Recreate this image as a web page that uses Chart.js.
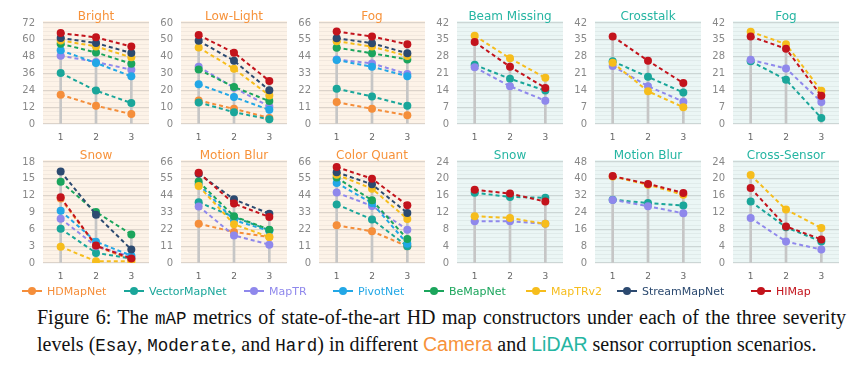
<!DOCTYPE html>
<html>
<head>
<meta charset="utf-8">
<script src="https://cdn.jsdelivr.net/npm/chart.js@4.4.1/dist/chart.umd.min.js"></script>
<style>
body { margin: 0; width: 863px; height: 371px; background: #fff; position: relative; overflow: hidden; }
.painel { position: absolute; width: 140px; height: 145px; }
.painel canvas { display: block; }
.item { position: absolute; top: 285px; font-family: "DejaVu Sans", sans-serif; font-size: 11px; white-space: nowrap; }
.marca { display: inline-block; position: relative; width: 20px; height: 2px; vertical-align: middle; margin-right: 5px; top: -1px; }
.marca i { position: absolute; left: 6px; top: -3px; width: 8px; height: 8px; border-radius: 50%; }
.legenda-txt { position: absolute; left: 37px; width: 809px; font-family: "Liberation Serif", "Times New Roman", serif; font-size: 20px; color: #111; white-space: nowrap; }
.l1 { top: 306px; text-align: justify; text-align-last: justify; }
.l2 { top: 333px; }
.mono { font-family: "Liberation Mono", monospace; font-size: 17.5px; }
.sans { font-family: "Liberation Sans", sans-serif; font-size: 19.5px; }
</style>
</head>
<body>
<div id="graficos"></div>
<div id="legenda"></div>
<div class="legenda-txt l1">Figure 6: The <span class="mono">mAP</span> metrics of state-of-the-art HD map constructors under each of the three severity</div>
<div class="legenda-txt l2">levels (<span class="mono">Esay</span>, <span class="mono">Moderate</span>, and <span class="mono">Hard</span>) in different <span class="sans" style="color:#f7923a">Camera</span> and <span class="sans" style="color:#25b5a2">LiDAR</span> sensor corruption scenarios.</div>
<script>
var niveis = ['1', '2', '3'];
var metodos = ['HDMapNet', 'VectorMapNet', 'MapTR', 'PivotNet', 'BeMapNet', 'MapTRv2', 'StreamMapNet', 'HIMap'];
var cores = ['#f58e3a', '#1aa69a', '#8f88ec', '#22a7e6', '#1ba55c', '#f6bd1c', '#2c4a70', '#c3131c'];
var metodosLidar = ['VectorMapNet', 'MapTR', 'MapTRv2', 'HIMap'];

// camera: one row per method, same order as metodos
var camBright = [[20.9, 13.0, 7.1], [36.3, 23.8, 15.0], [48.7, 44.2, 38.7], [52.5, 43.5, 34.0], [57.2, 51.0, 43.0], [59.6, 55.3, 47.5], [61.3, 57.7, 50.6], [64.8, 61.8, 55.3]];
var camLowLight = [[14.0, 9.0, 3.6], [12.8, 7.0, 2.8], [34.0, 21.6, 10.4], [23.6, 16.0, 8.4], [32.4, 22.0, 13.6], [45.4, 32.8, 17.0], [49.4, 37.6, 20.0], [52.8, 42.4, 25.6]];
var camFog = [[14.3, 9.9, 5.7], [23.1, 18.0, 11.9], [42.2, 39.6, 32.6], [41.8, 37.4, 31.2], [49.9, 46.2, 42.2], [54.1, 50.6, 44.4], [56.1, 52.8, 46.2], [60.5, 57.2, 52.1]];
var camSnow = [[11.5, 3.0, 0.6], [6.1, 1.8, 0.8], [7.9, 3.0, 1.1], [9.3, 3.8, 1.3], [14.5, 9.1, 5.1], [2.9, 0.3, 0.3], [16.3, 8.6, 2.4], [11.7, 3.1, 0.8]];
var camMotionBlur = [[25.7, 20.3, 17.0], [39.7, 30.1, 21.4], [37.0, 18.0, 12.0], [51.5, 28.0, 21.0], [53.2, 30.5, 21.8], [50.3, 25.3, 17.0], [58.4, 41.6, 32.2], [59.0, 38.8, 30.1]];
var camColorQuant = [[24.6, 20.7, 10.9], [38.3, 28.5, 10.9], [46.0, 37.3, 21.8], [52.3, 39.2, 12.6], [55.8, 41.0, 15.7], [57.7, 48.6, 28.8], [59.3, 51.4, 32.7], [62.7, 55.1, 37.7]];

// lidar: same order as metodosLidar
var lidarBeamMissing = [[24.6, 18.8, 13.9], [23.6, 15.7, 9.7], [36.7, 27.3, 19.2], [34.1, 23.8, 15.0]];
var lidarCrosstalk = [[26.1, 19.6, 13.1], [24.1, 15.7, 9.3], [25.5, 13.6, 7.0], [36.4, 26.3, 17.0]];
var lidarFog = [[26.1, 18.4, 2.5], [26.7, 23.1, 9.2], [38.4, 33.2, 13.8], [36.4, 31.3, 11.7]];
var lidarSnow = [[16.7, 15.7, 15.5], [9.9, 9.9, 9.3], [11.1, 10.7, 9.3], [17.4, 16.5, 14.6]];
var lidarMotionBlur = [[30.1, 28.5, 27.3], [30.0, 27.0, 23.6], [41.1, 37.2, 32.4], [41.3, 37.6, 33.3]];
var lidarCrossSensor = [[14.6, 8.5, 5.1], [10.7, 5.1, 3.2], [20.9, 12.7, 8.3], [17.8, 8.7, 5.6]];

var titulos = ['Bright', 'Low-Light', 'Fog', 'Beam Missing', 'Crosstalk', 'Fog',
               'Snow', 'Motion Blur', 'Color Quant', 'Snow', 'Motion Blur', 'Cross-Sensor'];
var eixoMax = [72, 60, 66, 42, 42, 42, 18, 66, 66, 24, 48, 24];
var eixoPasso = [12, 10, 11, 7, 7, 7, 3, 11, 11, 4, 8, 4];
var valores = [camBright, camLowLight, camFog, lidarBeamMissing, lidarCrosstalk, lidarFog,
               camSnow, camMotionBlur, camColorQuant, lidarSnow, lidarMotionBlur, lidarCrossSensor];

// panel background, and the title centred over the plot area
var fundoPlugin = {
	id: 'fundo',
	beforeDraw: function(chart, args, opts) {
		var a = chart.chartArea;
		var ctx = chart.ctx;
		ctx.save();
		ctx.fillStyle = opts.cor;
		ctx.fillRect(a.left, a.top - 2, a.right - a.left, a.bottom - a.top + 2);
		ctx.restore();
	},
	afterDraw: function(chart, args, opts) {
		var a = chart.chartArea;
		var ctx = chart.ctx;
		ctx.save();
		ctx.fillStyle = opts.corTitulo;
		ctx.font = '12px "DejaVu Sans"';
		ctx.textAlign = 'center';
		ctx.textBaseline = 'alphabetic';
		ctx.fillText(opts.titulo, (a.left + a.right) / 2, a.top - 3);
		ctx.restore();
	}
};

function corDe(nome) {
	return cores[metodos.indexOf(nome)];
}

function criarPainel(i) {
	var linha = Math.floor(i / 6);
	var coluna = i % 6;
	var lidar = coluna >= 3;
	var nomes = lidar ? metodosLidar : metodos;
	var dados = valores[i];

	var div = document.createElement('div');
	div.className = 'painel';
	div.style.left = (13 + coluna * 138) + 'px';
	div.style.top = (linha * 139) + 'px';
	var canvas = document.createElement('canvas');
	canvas.width = 140;
	canvas.height = 145;
	div.appendChild(canvas);
	document.getElementById('graficos').appendChild(div);

	var datasets = [];
	for (var k = nomes.length - 1; k >= 0; k--) {
		datasets.push({
			type: 'line',
			label: nomes[k],
			data: dados[k],
			borderColor: corDe(nomes[k]),
			backgroundColor: corDe(nomes[k]),
			borderWidth: 2,
			borderDash: [4, 3],
			pointRadius: 4,
			pointBorderWidth: 0,
			tension: 0,
			order: 1
		});
	}
	// gray stem at each level, up to the highest value
	var topos = niveis.map(function(n, j) {
		return Math.max.apply(null, dados.map(function(d) { return d[j]; }));
	});
	datasets.push({
		type: 'bar',
		label: 'stem',
		data: topos,
		backgroundColor: '#c6c6c6',
		barThickness: 2,
		order: 10
	});

	var passoMenor = eixoPasso[i] / 4;

	new Chart(canvas.getContext('2d'), {
		type: 'line',
		data: { labels: niveis, datasets: datasets },
		plugins: [fundoPlugin],
		options: {
			responsive: false,
			animation: false,
			layout: { padding: { top: 23, right: 0, bottom: 0, left: 0 } },
			plugins: {
				legend: { display: false },
				tooltip: { enabled: false },
				title: { display: false },
				fundo: {
					cor: lidar ? '#ebf6f5' : '#fdf3e8',
					corTitulo: lidar ? '#25b5a2' : '#f7923a',
					titulo: titulos[i]
				}
			},
			scales: {
				x: {
					offset: true,
					grid: { display: false, drawTicks: false },
					border: { display: false },
					ticks: { color: '#666', font: { family: 'DejaVu Sans', size: 9 }, padding: 8 },
					afterFit: function(s) { s.height = 21; }
				},
				y: {
					min: 0,
					max: eixoMax[i],
					border: { display: false },
					grid: {
						drawTicks: false,
						color: function(c) {
							return c.index % 4 === 0 ? 'rgba(0,0,0,0.13)' : 'rgba(0,0,0,0.045)';
						},
						lineWidth: function(c) { return c.index % 4 === 0 ? 1.2 : 1; }
					},
					ticks: {
						stepSize: passoMenor,
						autoSkip: false,
						padding: 8,
						color: '#888',
						font: { family: 'DejaVu Sans', size: 10 },
						callback: function(v, idx) { return idx % 4 === 0 ? String(Math.round(v)) : ''; }
					},
					afterFit: function(s) { s.width = 30; }
				}
			}
		}
	});
}

for (var i = 0; i < 12; i++) {
	criarPainel(i);
}

// legend row
var posLegenda = [22, 124, 244, 333, 424, 526, 617, 751];
var legenda = document.getElementById('legenda');
metodos.forEach(function(nome, k) {
	var item = document.createElement('div');
	item.className = 'item';
	item.style.left = posLegenda[k] + 'px';
	item.style.color = cores[k];
	item.innerHTML = '<span class="marca" style="background:' + cores[k] + '"><i style="background:' + cores[k] + '"></i></span>' + nome;
	legenda.appendChild(item);
});
</script>
</body>
</html>
